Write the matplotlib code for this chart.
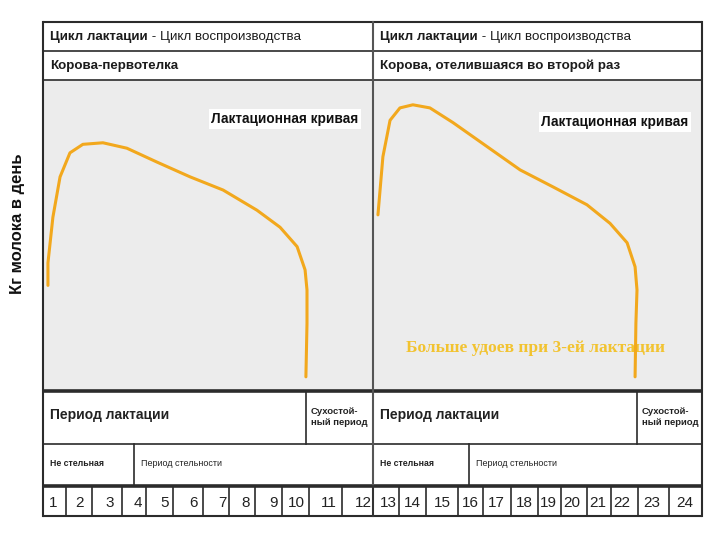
"""Lactation curve diagram: first-calf heifer vs. second-calving cow."""
import matplotlib
matplotlib.use("Agg")
import matplotlib.pyplot as plt
from matplotlib.patches import Rectangle

SANS = ["Liberation Sans", "DejaVu Sans"]

# lactation curves: month since calving -> kg of milk per day
HEIFER_MONTH = [0.18, 0.18, 0.36, 0.62, 0.98, 1.45, 2.18, 3.05, 4.15, 5.35,
                6.55, 7.78, 8.62, 9.24, 9.53, 9.60, 9.60, 9.56]
HEIFER_KG = [13.5, 16.4, 22.3, 27.5, 30.6, 31.7, 31.9, 31.2, 29.4, 27.5,
             25.8, 23.2, 21.0, 18.5, 15.5, 12.9, 8.6, 1.7]
COW2_MONTH = [0.18, 0.36, 0.62, 0.98, 1.45, 2.07, 2.91, 4.15, 5.35, 6.55,
              7.78, 8.62, 9.24, 9.53, 9.60, 9.56, 9.53]
COW2_KG = [22.6, 30.1, 34.8, 36.4, 36.8, 36.4, 34.5, 31.4, 28.4, 26.2,
           23.9, 21.5, 19.0, 15.9, 12.9, 8.6, 1.7]

MONTH_LABELS = [str(i) for i in range(1, 25)]
HEADER = ("Цикл лактации", " - Цикл воспроизводства")
COW_TITLES = ["Корова-первотелка", "Корова, отелившаяся во второй раз"]
CURVE_LABEL = "Лактационная кривая"
NOTE = "Больше удоев при 3-ей лактации"
Y_LABEL = "Кг молока в день"

# layout (pixels)
PANELS_X = [43, 373]
PANEL_W = 330
DRY_SPLIT = [306, 637]
PREG_SPLIT = [134, 469]
MONTH_EDGES = [43, 66, 92, 122, 146, 173, 203, 229, 255, 282, 309, 342, 373,
               399, 426, 458, 483, 511, 538, 561, 587, 611, 638, 669, 702]
MONTH_TEXT_X = [53, 79, 110, 138, 165, 194, 222, 246, 274, 296, 329, 363,
                388, 412, 442, 470, 496, 524, 548, 572, 598, 622, 652, 685]
CURVE_COLOR = "#f2a81d"


def main():
    fig = plt.figure(figsize=(7.2, 5.4), dpi=100)
    ax = fig.add_axes([0, 0, 1, 1])
    ax.set_xlim(0, 720)
    ax.set_ylim(540, 0)
    ax.axis("off")

    right = 702
    edge = "#2b2b2b"
    ink = "#1c1c1c"
    # gray curve panels
    for x0 in PANELS_X:
        ax.add_patch(Rectangle((x0, 80), PANEL_W, 310, facecolor="#ececec",
                               edgecolor="none", zorder=0))

    # horizontal rules
    for y, lw in [(22, 1.5), (51, 1.2), (80, 1.2), (391, 2.6), (444, 1.2),
                  (486, 2.6), (516, 1.5)]:
        ax.plot([43, right], [y, y], color=edge, lw=lw, solid_capstyle="butt")
    # outer verticals and panel divider
    ax.plot([43, 43], [22, 516], color=edge, lw=1.5)
    ax.plot([right, right], [22, 516], color=edge, lw=1.5)
    ax.plot([373, 373], [22, 516], color="#555555", lw=1.5)
    for x in DRY_SPLIT:
        ax.plot([x, x], [391, 444], color=edge, lw=1.2)
    for x in PREG_SPLIT:
        ax.plot([x, x], [444, 486], color=edge, lw=1.2)
    for x in MONTH_EDGES[1:-1]:
        ax.plot([x, x], [486, 516], color=edge, lw=1.2)

    for i, x0 in enumerate(PANELS_X):
        t = ax.text(x0 + 7, 37, HEADER[0], fontsize=9.6, fontweight="bold",
                    family=SANS, va="center", ha="left", color=ink)
        ax.annotate(HEADER[1], xycoords=t, xy=(1, 0.5), va="center",
                    ha="left", fontsize=9.6, family=SANS, color=ink)
        ax.text(x0 + 7, 66, COW_TITLES[i], fontsize=9.6, fontweight="bold",
                family=SANS, va="center", ha="left", color=ink)
        ax.text(x0 + 7, 415, "Период лактации", fontsize=10,
                fontweight="bold", family=SANS, va="center", ha="left",
                color="#222222")
        ax.text(DRY_SPLIT[i] + 5, 417, "Сухостой-\nный период", fontsize=6.8,
                fontweight="bold", family=SANS, va="center", ha="left",
                color="#222222", linespacing=1.15)
        ax.text(x0 + 7, 464, "Не стельная", fontsize=6.3, fontweight="bold",
                family=SANS, va="center", ha="left", color="#222222")
        ax.text(PREG_SPLIT[i] + 7, 464, "Период стельности", fontsize=6.5,
                family=SANS, va="center", ha="left", color="#222222")

    for lab, x in zip(MONTH_LABELS, MONTH_TEXT_X):
        ax.text(x, 503, lab, fontsize=11, family=SANS, ha="center",
                va="center", color="#222222")

    ax.text(18, 224, Y_LABEL, rotation=90, fontsize=12, fontweight="bold",
            family=SANS, ha="center", va="center", color="#111111")

    # curve panels
    curves = [(HEIFER_MONTH, HEIFER_KG, (285, 119)),
              (COW2_MONTH, COW2_KG, (615, 122))]
    for x0, (months, kg, lab_xy) in zip(PANELS_X, curves):
        cax = fig.add_axes([x0 / 720, 150 / 540, PANEL_W / 720, 310 / 540])
        cax.set_xlim(0, 12)
        cax.set_ylim(0, 40)
        cax.axis("off")
        cax.plot(months, kg, color=CURVE_COLOR, lw=2.2,
                 solid_joinstyle="round", solid_capstyle="round")
        ax.text(lab_xy[0], lab_xy[1], CURVE_LABEL, fontsize=9.8,
                family=SANS, fontweight="bold", ha="center", va="center",
                color="#111111",
                bbox=dict(facecolor="white", edgecolor="none", pad=2))

    ax.text(535, 348, NOTE, fontsize=12.5, fontweight="bold",
            family=["Liberation Serif", "DejaVu Serif"], ha="center",
            va="center", color="#f2c330", zorder=5)

    fig.savefig("out.png", dpi=100)
    plt.close(fig)


if __name__ == "__main__":
    main()
